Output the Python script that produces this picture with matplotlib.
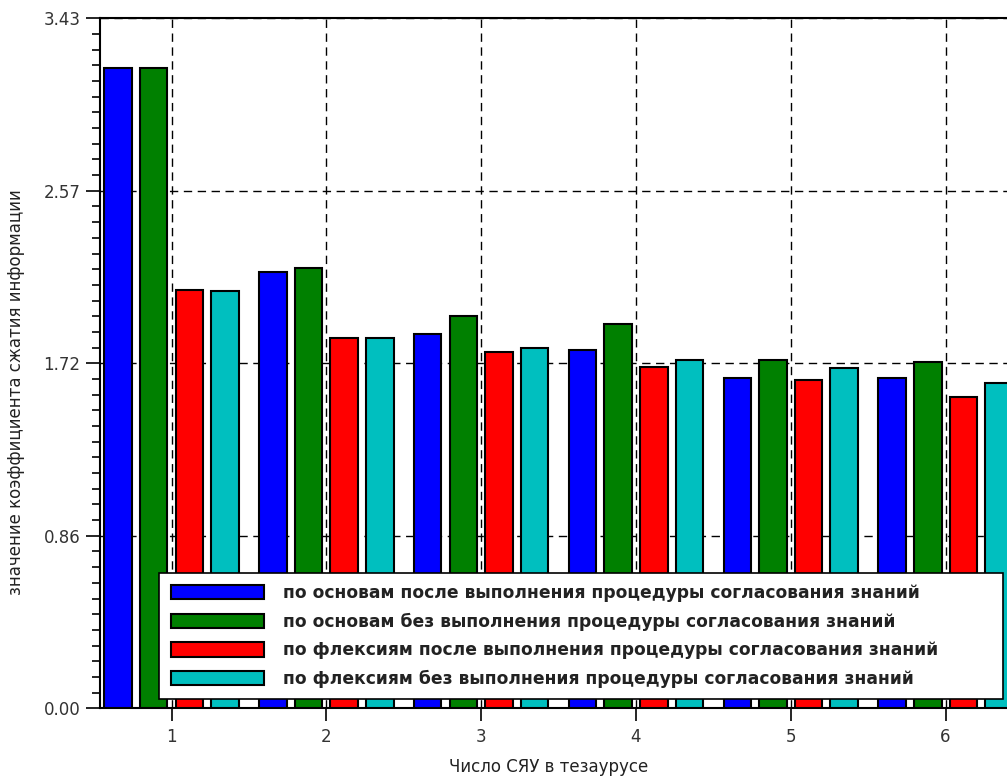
import numpy as np
import matplotlib
matplotlib.use("Agg")
import matplotlib.pyplot as plt
from matplotlib.ticker import AutoMinorLocator, FixedLocator

plt.rcParams['font.family'] = ['DejaVu Sans']

# ---- data ----
groups = [1, 2, 3, 4, 5, 6]
series_labels = [
    "по основам после выполнения процедуры согласования знаний",
    "по основам без выполнения процедуры согласования знаний",
    "по флексиям после выполнения процедуры согласования знаний",
    "по флексиям без выполнения процедуры согласования знаний",
]
stems_after = [3.184, 2.170, 1.860, 1.781, 1.640, 1.640]
stems_without = [3.184, 2.187, 1.951, 1.910, 1.731, 1.720]
flex_after = [2.079, 1.839, 1.769, 1.698, 1.632, 1.549]
flex_without = [2.076, 1.839, 1.789, 1.731, 1.690, 1.615]
series_values = [stems_after, stems_without, flex_after, flex_without]
colors = ["#0000FF", "#008000", "#FF0000", "#00BFBF"]

ytick_values = [0.0, 0.8575, 1.715, 2.5725, 3.43]
ytick_labels = ["0.00", "0.86", "1.72", "2.57", "3.43"]
xlabel = "Число СЯУ в тезаурусе"
ylabel = "значение коэффициента сжатия информации"

W, H = 1007, 776
fig = plt.figure(figsize=(W / 100, H / 100), dpi=100)
ax = fig.add_axes([100 / W, 1 - 708.3 / H, (W - 100) / W, 690.0 / H])

x = np.array(groups, dtype=float)
step = 0.23
width = 0.178
handles = []
for i, (vals, c, lab) in enumerate(zip(series_values, colors, series_labels)):
    off = (i - 1.5) * step
    b = ax.bar(x + off, vals, width=width, color=c, edgecolor="black",
               linewidth=1.5, label=lab, zorder=3)
    handles.append(b)

ax.set_xlim(0.538, 6.397)
ax.set_ylim(0, 3.43)
ax.set_xticks(groups)
ax.set_xticklabels([str(g) for g in groups])
ax.yaxis.set_major_locator(FixedLocator(ytick_values))
ax.set_yticklabels(ytick_labels)
ax.yaxis.set_minor_locator(AutoMinorLocator(11))

ax.grid(True, which="major", linestyle=(0, (6, 4)), color="black", linewidth=1.0)
ax.set_axisbelow(True)

for s in ["left", "bottom", "top"]:
    ax.spines[s].set_linewidth(1.5)
    ax.spines[s].set_color("black")
ax.spines["right"].set_visible(False)

ax.tick_params(axis="y", which="major", direction="out", length=10, width=1.2,
               labelsize=12, labelcolor="#333333", pad=4)
ax.tick_params(axis="y", which="minor", direction="out", length=5.5, width=1.2)
ax.tick_params(axis="x", which="major", direction="out", length=9, width=1.2,
               labelsize=12, labelcolor="#333333", pad=5)
ax.tick_params(axis="x", which="minor", bottom=False)

ax.set_xlabel(xlabel, fontsize=12, color="#222222")
ax.set_ylabel(ylabel, fontsize=12, color="#222222")
ax.xaxis.set_label_coords(0.4945, -0.072)
ax.yaxis.set_label_coords(-0.083, 0.458)

# legend box in pixels
lx0, ly0, lx1, ly1 = 159.3, 572.7, 1003.0, 700.0
leg = fig.legend(handles=handles, labels=series_labels,
                 loc="upper left",
                 bbox_to_anchor=(lx0 / W, 1 - ly1 / H, (lx1 - lx0) / W, (ly1 - ly0) / H),
                 mode="expand", borderaxespad=0.0,
                 prop={"family": "DejaVu Sans", "weight": "bold", "size": 12.3},
                 handlelength=5.44, handleheight=0.92, handletextpad=1.13,
                 borderpad=0.66, labelspacing=0.62,
                 fancybox=False, framealpha=1.0, edgecolor="black")
leg.get_frame().set_linewidth(1.2)
for t in leg.get_texts():
    t.set_color("#222222")

fig.savefig("out.png", dpi=100)
